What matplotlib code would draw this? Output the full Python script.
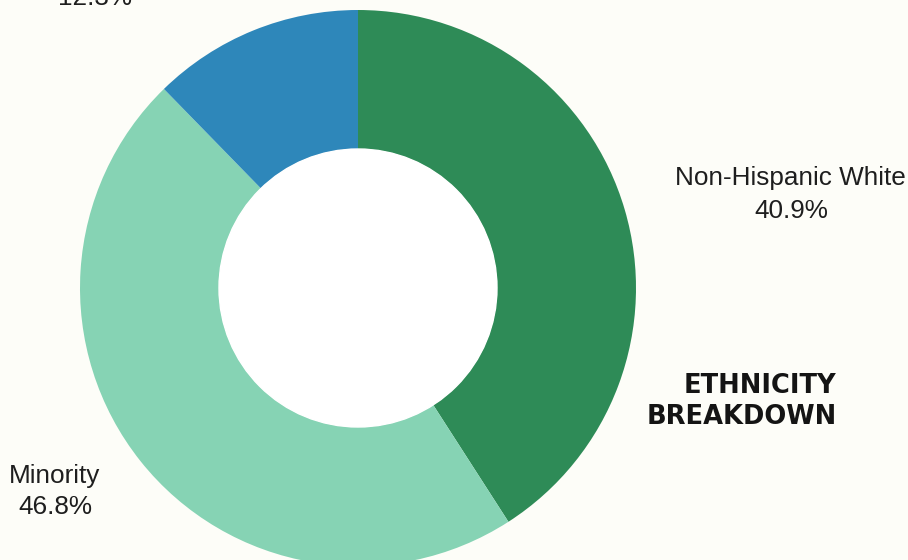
import matplotlib.pyplot as plt

# ethnicity shares, clockwise from 12 o'clock
groups = ['Non-Hispanic White', 'Minority', 'Other']
shares = [40.9, 46.8, 12.3]
colors = ['#2e8b57', '#86d3b4', '#2e87ba']

bg = '#fdfdf8'
W, H = 908, 560

fig = plt.figure(figsize=(W / 100, H / 100), dpi=100, facecolor=bg)
ax = fig.add_axes([0, 0, 1, 1])
ax.set_facecolor(bg)

cx, cy, r = 358, H - 288, 278
ax.pie(shares, colors=colors, startangle=90, counterclock=False,
       center=(cx, cy), radius=r, frame=True,
       wedgeprops=dict(width=r * 0.5, linewidth=0))
ax.add_patch(plt.Circle((cx, cy), r * 0.5, color='white', zorder=3))

ax.set_xlim(0, W)
ax.set_ylim(0, H)
ax.set_aspect('equal')
ax.axis('off')

lab = dict(fontsize=18.8, family='Liberation Sans', color='#1e1e1e',
           ha='center', va='center')
ax.text(790, H - 178, groups[0], **lab)
ax.text(791, H - 211, f'{shares[0]}%', **lab)
ax.text(55, H - 476, groups[1], **lab)
ax.text(55, H - 507, f'{shares[1]}%', **lab)
ax.text(95, H + 2, f'{shares[2]}%', **lab)

title = dict(fontsize=18.5, family='DejaVu Sans', weight='bold',
             color='#141414', ha='right', va='center')
ax.text(836, H - 386, 'ETHNICITY', **title)
ax.text(837, H - 417, 'BREAKDOWN', **title)

fig.savefig('out.png', dpi=100, facecolor=bg)
